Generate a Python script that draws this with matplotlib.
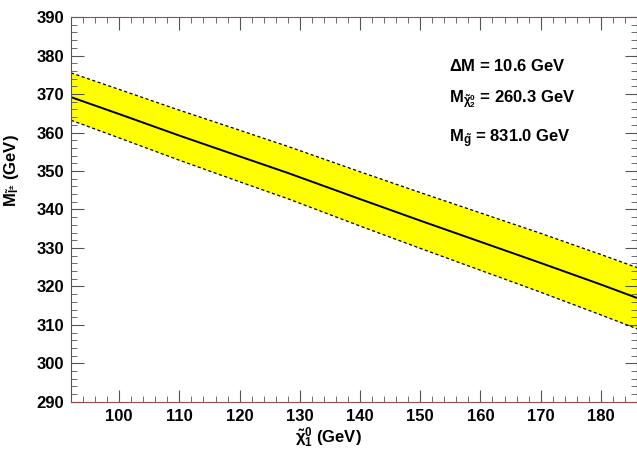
import numpy as np
import matplotlib
matplotlib.use("Agg")
import matplotlib.pyplot as plt
from matplotlib.ticker import MultipleLocator

# neutralino mass scan (GeV) and fitted slepton mass with band
m_chi1 = [92, 100, 110, 120, 128, 140, 150, 160, 170, 180, 186]
m_slep = [369.2, 364.8, 359.2, 353.8, 349.5, 342.7, 337.1, 331.6, 326.1, 320.5, 317.0]
band_up = [375.5, 371.2, 365.8, 360.6, 356.4, 349.8, 344.4, 339.1, 333.8, 328.3, 324.9]
band_lo = [363.2, 358.6, 352.8, 347.2, 342.8, 335.7, 329.9, 324.2, 318.5, 312.6, 309.0]

plt.rcParams["font.family"] = ["Liberation Sans", "DejaVu Sans"]
plt.rcParams["font.weight"] = "bold"
plt.rcParams["mathtext.fontset"] = "custom"
plt.rcParams["mathtext.rm"] = "Liberation Sans:bold"
plt.rcParams["mathtext.it"] = "Liberation Sans:bold"
plt.rcParams["mathtext.bf"] = "Liberation Sans:bold"

fig = plt.figure(figsize=(6.37, 4.5), dpi=100)
ax = fig.add_axes([0.1115, 0.107, 0.8885, 0.855])

ax.fill_between(m_chi1, band_lo, band_up, color="#ffff00", lw=0)
ax.plot(m_chi1, band_up, color="black", ls=(0, (2.5, 2)), lw=0.9)
ax.plot(m_chi1, band_lo, color="black", ls=(0, (2.5, 2)), lw=0.9)
ax.plot(m_chi1, m_slep, color="black", lw=1.4)

ax.set_xlim(92, 186)
ax.set_ylim(290, 390)
ax.xaxis.set_major_locator(MultipleLocator(10))
ax.xaxis.set_minor_locator(MultipleLocator(2))
ax.yaxis.set_major_locator(MultipleLocator(10))
ax.yaxis.set_minor_locator(MultipleLocator(2))
ax.tick_params(which="both", direction="in", top=True, right=True, color="#555555",
               labelsize=12, pad=5)
ax.tick_params(which="major", length=9)
ax.tick_params(which="minor", length=4)
for lab in ax.get_xticklabels() + ax.get_yticklabels():
    lab.set_fontweight("bold")
for s in ("bottom", "top"):
    ax.spines[s].set_color("#9a4a4a")
ax.spines["left"].set_color("#555555")

ax.set_xlabel(r"$\tilde{\chi}_1^0$ (GeV)", fontsize=12, fontweight="bold")
ax.xaxis.set_label_coords(0.455, -0.062)
ax.set_ylabel(r"M$_{\tilde{l}^{\pm}}$ (GeV)", fontsize=12, fontweight="bold")
ax.yaxis.set_label_coords(-0.088, 0.6)

ax.text(0.668, 0.874, r"$\Delta$M = 10.6 GeV", transform=ax.transAxes, fontsize=12,
        fontweight="bold", va="center")
ax.text(0.668, 0.788, r"M$_{\tilde{\chi}_2^0}$ = 260.3 GeV", transform=ax.transAxes,
        fontsize=12, fontweight="bold", va="center")
ax.text(0.668, 0.685, r"M$_{\tilde{g}}$ = 831.0 GeV", transform=ax.transAxes,
        fontsize=12, fontweight="bold", va="center")

fig.savefig("out.png", dpi=100)
